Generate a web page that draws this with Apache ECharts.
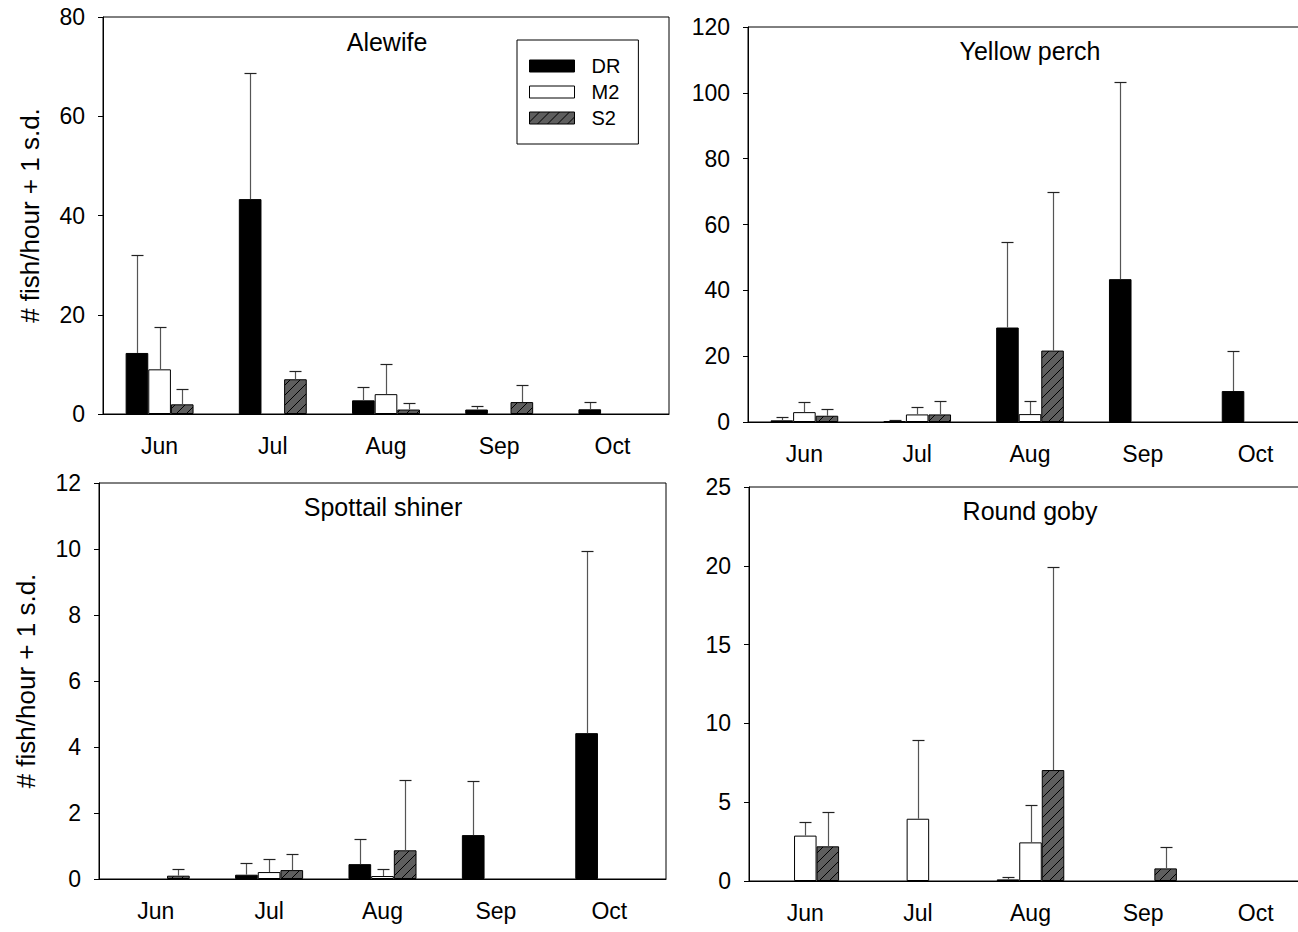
<!DOCTYPE html>
<html>
<head>
<meta charset="utf-8">
<script src="https://cdn.jsdelivr.net/npm/echarts@6/dist/echarts.min.js"></script>
<style>
html,body{margin:0;padding:0;background:#fff;overflow:hidden;}
#chart{width:1320px;height:932px;}
</style>
</head>
<body>
<div id="chart"></div>
<script>
// ---------- data ----------
const categories = ['Jun', 'Jul', 'Aug', 'Sep', 'Oct'];
const groups = ['DR', 'M2', 'S2'];
const panelTitles = ['Alewife', 'Yellow perch', 'Spottail shiner', 'Round goby'];
const yAxisMax = [80, 120, 12, 25];
const yAxisInterval = [20, 20, 2, 5];
const yTitle = '# fish/hour + 1 s.d.';

// means
const alewife_DR = [12.3, 43.3, 2.75, 0.9, 0.95];
const alewife_M2 = [9.0, 0, 4.0, 0, 0];
const alewife_S2 = [1.95, 7.0, 0.9, 2.4, 0];
// mean + 1 s.d.
const alewife_DR_up = [32.0, 68.7, 5.4, 1.7, 2.35];
const alewife_M2_up = [17.5, 0, 10.1, 0, 0];
const alewife_S2_up = [5.1, 8.7, 2.2, 5.8, 0];

const perch_DR = [0.5, 0.3, 28.7, 43.4, 9.4];
const perch_M2 = [3.0, 2.3, 2.4, 0, 0];
const perch_S2 = [1.9, 2.3, 21.7, 0, 0];
const perch_DR_up = [1.4, 0.7, 54.6, 103.2, 21.6];
const perch_M2_up = [6.1, 4.5, 6.4, 0, 0];
const perch_S2_up = [3.8, 6.4, 70.0, 0, 0];

const shiner_DR = [0, 0.13, 0.45, 1.33, 4.42];
const shiner_M2 = [0, 0.21, 0.09, 0, 0];
const shiner_S2 = [0.1, 0.27, 0.87, 0, 0];
const shiner_DR_up = [0, 0.48, 1.2, 2.97, 9.94];
const shiner_M2_up = [0, 0.61, 0.3, 0, 0];
const shiner_S2_up = [0.3, 0.76, 3.01, 0, 0];

const goby_DR = [0, 0, 0.1, 0, 0];
const goby_M2 = [2.88, 3.95, 2.45, 0, 0];
const goby_S2 = [2.2, 0, 7.04, 0.8, 0];
const goby_DR_up = [0, 0, 0.27, 0, 0];
const goby_M2_up = [3.76, 8.92, 4.82, 0, 0];
const goby_S2_up = [4.4, 0, 19.94, 2.16, 0];

const panelMeans = [
  [alewife_DR, alewife_M2, alewife_S2],
  [perch_DR, perch_M2, perch_S2],
  [shiner_DR, shiner_M2, shiner_S2],
  [goby_DR, goby_M2, goby_S2]
];
const panelUppers = [
  [alewife_DR_up, alewife_M2_up, alewife_S2_up],
  [perch_DR_up, perch_M2_up, perch_S2_up],
  [shiner_DR_up, shiner_M2_up, shiner_S2_up],
  [goby_DR_up, goby_M2_up, goby_S2_up]
];

// ---------- layout & style ----------
// canvas is 1320 wide; the page window (1298) clips the right panels' right edge
const grids = [
  {left: 103, right: 651, top: 17, bottom: 518},
  {left: 748, right: 8, top: 27, bottom: 510},
  {left: 99, right: 654, top: 483, bottom: 53},
  {left: 749, right: 8, top: 487, bottom: 51}
];
const titlePos = [[387, 42], [1030, 51], [383, 507], [1030, 511]];
const FONT = 'Arial, "Liberation Sans", sans-serif';
const CAT_GAP = 0.4;

function hatchCanvas() {
  const c = document.createElement('canvas');
  c.width = 10; c.height = 10;
  const g = c.getContext('2d');
  g.fillStyle = '#5e5e5e';
  g.fillRect(0, 0, 10, 10);
  g.strokeStyle = '#000';
  g.lineWidth = 1;
  g.beginPath();
  g.moveTo(0, 10); g.lineTo(10, 0);
  g.moveTo(-1, 1); g.lineTo(1, -1);
  g.moveTo(9, 11); g.lineTo(11, 9);
  g.stroke();
  return c;
}
const fills = ['#000000', '#ffffff', {image: hatchCanvas(), repeat: 'repeat'}];

const option = {
  animation: false,
  backgroundColor: '#fff',
  textStyle: {fontFamily: FONT, color: '#000'},
  grid: grids.map(g => Object.assign({show: true, borderColor: '#000', borderWidth: 1, backgroundColor: 'transparent'}, g)),
  legend: {
    data: groups,
    orient: 'vertical',
    left: 517, top: 40,
    padding: [16, 18, 16, 12],
    itemWidth: 45, itemHeight: 12, itemGap: 6,
    borderColor: '#000', borderWidth: 1,
    icon: 'rect',
    selectedMode: false,
    textStyle: {fontSize: 20, fontFamily: FONT, color: '#000', padding: [0, 0, 0, 12]},
    itemStyle: {borderColor: '#000', borderWidth: 1}
  },
  xAxis: grids.map((g, i) => ({
    type: 'category', gridIndex: i, data: categories,
    axisLine: {lineStyle: {color: '#000', width: 1}},
    axisTick: {alignWithLabel: true, length: 6, lineStyle: {color: '#000'}},
    axisLabel: {fontSize: 23, color: '#000', margin: 20, fontFamily: FONT}
  })),
  yAxis: grids.map((g, i) => ({
    type: 'value', gridIndex: i, min: 0, max: yAxisMax[i], interval: yAxisInterval[i],
    splitLine: {show: false},
    axisLine: {show: true, lineStyle: {color: '#000', width: 1}},
    axisTick: {show: true, length: 5, lineStyle: {color: '#000'}},
    axisLabel: {fontSize: 23, color: '#000', margin: 18, fontFamily: FONT},
    name: (i === 0 || i === 2) ? yTitle : '',
    nameLocation: 'middle', nameGap: 60,
    nameTextStyle: {fontSize: 26, color: '#000', fontFamily: FONT}
  })),
  graphic: panelTitles.map((t, i) => ({
    type: 'text', x: titlePos[i][0], y: titlePos[i][1],
    style: {text: t, textAlign: 'center', textVerticalAlign: 'middle', font: '25px ' + FONT, fill: '#000'}
  })),
  series: []
};

panelMeans.forEach((means, p) => {
  means.forEach((arr, s) => {
    option.series.push({
      type: 'bar', name: groups[s], xAxisIndex: p, yAxisIndex: p,
      data: arr.map(v => (v === 0 ? '-' : v)),
      barGap: '0%', barCategoryGap: (CAT_GAP * 100) + '%',
      itemStyle: {color: fills[s], borderColor: '#000', borderWidth: 1},
      emphasis: {disabled: true}
    });
  });
  const errData = [];
  means.forEach((arr, s) => {
    arr.forEach((m, c) => {
      errData.push([c, s, m, panelUppers[p][s][c]]);
    });
  });
  option.series.push({
    type: 'custom', xAxisIndex: p, yAxisIndex: p, z: 3,
    data: errData,
    encode: {x: 0, y: 3},
    renderItem: function (params, api) {
      const c = api.value(0), s = api.value(1), m = api.value(2), up = api.value(3);
      if (!(up > m)) return;
      const band = api.size([1, 0])[0];
      const bw = band * (1 - CAT_GAP) / 3;
      const p0 = api.coord([c, m]);
      const p1 = api.coord([c, up]);
      const x = Math.round(p0[0] + (s - 1) * bw) + 0.5;
      const y1 = Math.round(p1[1]) + 0.5;
      return {
        type: 'group',
        children: [
          {type: 'line', shape: {x1: x, y1: p0[1], x2: x, y2: y1}, style: {stroke: '#555', lineWidth: 1.2}},
          {type: 'line', shape: {x1: x - 6, y1: y1, x2: x + 6, y2: y1}, style: {stroke: '#222', lineWidth: 1.2}}
        ]
      };
    }
  });
});

const chart = echarts.init(document.getElementById('chart'), null, {renderer: 'svg'});
chart.setOption(option);
</script>
</body>
</html>
